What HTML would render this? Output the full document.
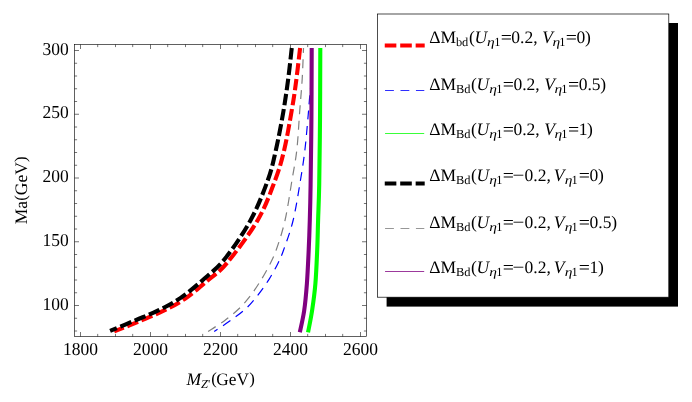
<!DOCTYPE html>
<html><head><meta charset="utf-8"><style>
html,body{margin:0;padding:0;background:#fff;}
svg{display:block;font-family:"Liberation Serif",serif;will-change:transform;text-rendering:geometricPrecision;}
text{fill:#000;}
</style></head><body>
<svg width="692" height="402" viewBox="0 0 692 402">
<rect width="692" height="402" fill="#fff"/>
<path d="M300.10,48.05 C299.40,53.88 297.28,72.67 295.90,83.00 C294.52,93.33 293.75,98.83 291.80,110.00 C289.85,121.17 286.97,138.33 284.20,150.00 C281.43,161.67 279.60,168.33 275.20,180.00 C270.80,191.67 265.82,206.20 257.80,220.00 C249.78,233.80 235.54,252.66 227.10,262.80 C218.66,272.94 214.23,274.82 207.15,280.85 C200.07,286.88 192.11,293.91 184.60,299.00 C177.09,304.09 169.97,307.55 162.10,311.40 C154.23,315.25 145.38,318.77 137.40,322.10 C129.42,325.43 118.07,329.85 114.20,331.40" fill="none" stroke="#ff0000" stroke-width="4.1" stroke-dasharray="11.70 3.70" stroke-dashoffset="0.00"/>
<path d="M311.60,48.05 C311.47,54.04 311.17,75.34 310.80,84.00 C310.43,92.66 309.83,94.83 309.40,100.00 C308.97,105.17 308.95,106.67 308.20,115.00 C307.45,123.33 306.18,139.17 304.90,150.00 C303.62,160.83 302.45,168.33 300.50,180.00 C298.55,191.67 296.02,208.33 293.20,220.00 C290.38,231.67 286.15,242.77 283.60,250.00 C281.05,257.23 280.30,258.55 277.90,263.40 C275.50,268.25 272.50,273.87 269.20,279.10 C265.90,284.33 262.03,289.83 258.10,294.80 C254.17,299.77 250.33,304.52 245.60,308.90 C240.87,313.28 234.93,317.35 229.70,321.10 C224.47,324.85 216.78,329.68 214.20,331.40" fill="none" stroke="#0000ff" stroke-width="1.2" stroke-dasharray="9.00 6.45" stroke-dashoffset="14.50"/>
<path d="M320.30,48.05 C320.25,60.04 320.18,97.17 320.00,120.00 C319.82,142.82 319.52,168.33 319.20,185.00 C318.88,201.67 318.43,209.17 318.10,220.00 C317.77,230.83 317.65,239.40 317.20,250.00 C316.75,260.60 316.25,273.52 315.40,283.60 C314.55,293.68 313.33,302.37 312.10,310.50 C310.87,318.63 308.72,328.75 308.04,332.40" fill="none" stroke="#00ff00" stroke-width="4.1"/>
<path d="M291.75,48.05 C291.16,53.19 289.61,68.24 288.20,78.90 C286.79,89.56 285.35,100.15 283.30,112.00 C281.25,123.85 278.47,138.67 275.90,150.00 C273.33,161.33 272.10,168.33 267.90,180.00 C263.70,191.67 257.83,206.92 250.70,220.00 C243.57,233.08 233.07,248.51 225.10,258.50 C217.12,268.49 210.32,273.35 202.85,279.95 C195.38,286.55 187.82,292.98 180.30,298.10 C172.78,303.23 165.25,307.00 157.75,310.70 C150.25,314.40 143.24,316.93 135.30,320.30 C127.36,323.67 114.30,329.13 110.10,330.90" fill="none" stroke="#000000" stroke-width="4.1" stroke-dasharray="11.70 3.70" stroke-dashoffset="0.00"/>
<path d="M303.50,48.05 C303.28,53.19 302.82,68.58 302.20,78.90 C301.58,89.23 300.70,98.15 299.80,110.00 C298.90,121.85 298.10,138.33 296.80,150.00 C295.50,161.67 293.95,168.33 292.00,180.00 C290.05,191.67 287.73,208.33 285.10,220.00 C282.47,231.67 278.87,242.38 276.20,250.00 C273.53,257.62 271.77,260.47 269.10,265.70 C266.43,270.93 263.33,276.37 260.20,281.40 C257.07,286.43 253.85,291.33 250.30,295.90 C246.75,300.47 243.25,304.63 238.90,308.80 C234.55,312.97 229.33,317.13 224.20,320.90 C219.07,324.67 210.78,329.65 208.10,331.40" fill="none" stroke="#808080" stroke-width="1.2" stroke-dasharray="9.00 6.40" stroke-dashoffset="4.13"/>
<path d="M311.70,48.05 C311.65,60.04 311.58,97.17 311.40,120.00 C311.22,142.82 310.87,168.33 310.60,185.00 C310.33,201.67 310.12,209.17 309.80,220.00 C309.48,230.83 309.18,239.40 308.70,250.00 C308.22,260.60 307.65,273.52 306.90,283.60 C306.15,293.68 305.38,302.39 304.20,310.50 C303.02,318.61 300.57,328.62 299.84,332.24" fill="none" stroke="#800080" stroke-width="4.1"/>
<rect x="74.5" y="44.5" width="292.0" height="292.0" fill="none" stroke="#000" stroke-width="0.62"/>
<path d="M80.50,336.50 v-4.50 M80.50,44.50 v4.50 M97.70,336.50 v-2.60 M97.70,44.50 v2.60 M115.50,336.50 v-2.60 M115.50,44.50 v2.60 M132.70,336.50 v-2.60 M132.70,44.50 v2.60 M150.50,336.50 v-4.50 M150.50,44.50 v4.50 M167.70,336.50 v-2.60 M167.70,44.50 v2.60 M185.50,336.50 v-2.60 M185.50,44.50 v2.60 M202.70,336.50 v-2.60 M202.70,44.50 v2.60 M220.50,336.50 v-4.50 M220.50,44.50 v4.50 M237.70,336.50 v-2.60 M237.70,44.50 v2.60 M255.50,336.50 v-2.60 M255.50,44.50 v2.60 M272.70,336.50 v-2.60 M272.70,44.50 v2.60 M290.50,336.50 v-4.50 M290.50,44.50 v4.50 M307.70,336.50 v-2.60 M307.70,44.50 v2.60 M325.50,336.50 v-2.60 M325.50,44.50 v2.60 M342.70,336.50 v-2.60 M342.70,44.50 v2.60 M360.50,336.50 v-4.50 M360.50,44.50 v4.50 M74.50,331.00 h2.60 M366.50,331.00 h-2.60 M74.50,318.25 h2.60 M366.50,318.25 h-2.60 M74.50,305.50 h4.50 M366.50,305.50 h-4.50 M74.50,292.75 h2.60 M366.50,292.75 h-2.60 M74.50,280.00 h2.60 M366.50,280.00 h-2.60 M74.50,267.25 h2.60 M366.50,267.25 h-2.60 M74.50,254.50 h2.60 M366.50,254.50 h-2.60 M74.50,241.75 h4.50 M366.50,241.75 h-4.50 M74.50,229.00 h2.60 M366.50,229.00 h-2.60 M74.50,216.25 h2.60 M366.50,216.25 h-2.60 M74.50,203.50 h2.60 M366.50,203.50 h-2.60 M74.50,190.75 h2.60 M366.50,190.75 h-2.60 M74.50,178.00 h4.50 M366.50,178.00 h-4.50 M74.50,165.25 h2.60 M366.50,165.25 h-2.60 M74.50,152.50 h2.60 M366.50,152.50 h-2.60 M74.50,139.75 h2.60 M366.50,139.75 h-2.60 M74.50,127.00 h2.60 M366.50,127.00 h-2.60 M74.50,114.25 h4.50 M366.50,114.25 h-4.50 M74.50,101.50 h2.60 M366.50,101.50 h-2.60 M74.50,88.75 h2.60 M366.50,88.75 h-2.60 M74.50,76.00 h2.60 M366.50,76.00 h-2.60 M74.50,63.25 h2.60 M366.50,63.25 h-2.60 M74.50,50.50 h4.50 M366.50,50.50 h-4.50" stroke="#000" stroke-width="0.55" fill="none"/>
<text transform="translate(80.50,355.2) scale(1,1.04)" text-anchor="middle" font-size="17.5">1800</text>
<text transform="translate(150.50,355.2) scale(1,1.04)" text-anchor="middle" font-size="17.5">2000</text>
<text transform="translate(220.50,355.2) scale(1,1.04)" text-anchor="middle" font-size="17.5">2200</text>
<text transform="translate(290.50,355.2) scale(1,1.04)" text-anchor="middle" font-size="17.5">2400</text>
<text transform="translate(360.50,355.2) scale(1,1.04)" text-anchor="middle" font-size="17.5">2600</text>
<text transform="translate(68.8,309.50) scale(1,1.04)" text-anchor="end" font-size="17.5">100</text>
<text transform="translate(68.8,245.75) scale(1,1.04)" text-anchor="end" font-size="17.5">150</text>
<text transform="translate(68.8,182.00) scale(1,1.04)" text-anchor="end" font-size="17.5">200</text>
<text transform="translate(68.8,118.25) scale(1,1.04)" text-anchor="end" font-size="17.5">250</text>
<text transform="translate(68.8,54.50) scale(1,1.04)" text-anchor="end" font-size="17.5">300</text>
<g transform="translate(27,190.3) rotate(-90)" font-size="17.5"><text x="-34.0" y="0">Ma</text><text x="-10.5" y="-0.85" font-size="16.8">(</text><text x="-4.85" y="0">GeV</text><text x="28.35" y="-0.85" font-size="16.8">)</text></g>
<text x="186.5" y="384.6" font-size="17.5" font-style="italic">M</text><text x="201.0" y="388.0" font-size="12.4" font-style="italic">Z</text><text x="207.9" y="388.4" font-size="12.4">'</text><text x="211.15" y="383.75" font-size="16.8">(</text><text x="216.3" y="384.6" font-size="17.5" textLength="32.6" lengthAdjust="spacingAndGlyphs">GeV</text><text x="249.3" y="383.75" font-size="16.8">)</text>
<rect x="386.6" y="23" width="291.4" height="283.6" fill="#000"/>
<rect x="377.5" y="14" width="291.3" height="283.2" fill="#fff" stroke="#000" stroke-width="0.7"/>
<path d="M384.75,45.50 H424.7" fill="none" stroke="#ff0000" stroke-width="4.1" stroke-dasharray="11.6 3.85"/>
<text x="429.30" y="42.60" font-size="17.5">ΔM</text>
<text x="455.90" y="46.10" font-size="12.4">bd</text>
<text x="468.90" y="42.60" font-size="17.5">(</text>
<text x="474.40" y="42.60" font-size="17.5" font-style="italic">U</text>
<text transform="translate(487.10,46.10) scale(1.25,1)" font-size="12.4" font-style="italic">η</text>
<text x="494.15" y="46.10" font-size="12.4">1</text>
<text transform="translate(500.70,42.60) scale(1.13,1)" font-size="17.5">=</text>
<text x="511.30" y="42.60" font-size="17.5">0.2,</text>
<text x="542.25" y="42.60" font-size="17.5" font-style="italic">V</text>
<text transform="translate(552.40,46.10) scale(1.25,1)" font-size="12.4" font-style="italic">η</text>
<text x="559.25" y="46.10" font-size="12.4">1</text>
<text transform="translate(565.80,42.60) scale(1.13,1)" font-size="17.5">=</text>
<text x="576.60" y="42.60" font-size="17.5">0</text>
<text x="585.00" y="42.60" font-size="17.5">)</text>
<path d="M385.05,90.50 H424.3" fill="none" stroke="#0000ff" stroke-width="0.82" stroke-dasharray="8.85 6.6"/>
<text x="429.30" y="89.80" font-size="17.5">ΔM</text>
<text x="455.90" y="93.30" font-size="12.4">Bd</text>
<text x="471.00" y="89.80" font-size="17.5">(</text>
<text x="476.50" y="89.80" font-size="17.5" font-style="italic">U</text>
<text transform="translate(489.20,93.30) scale(1.25,1)" font-size="12.4" font-style="italic">η</text>
<text x="496.25" y="93.30" font-size="12.4">1</text>
<text transform="translate(502.80,89.80) scale(1.13,1)" font-size="17.5">=</text>
<text x="513.40" y="89.80" font-size="17.5">0.2,</text>
<text x="544.35" y="89.80" font-size="17.5" font-style="italic">V</text>
<text transform="translate(554.50,93.30) scale(1.25,1)" font-size="12.4" font-style="italic">η</text>
<text x="561.35" y="93.30" font-size="12.4">1</text>
<text transform="translate(567.90,89.80) scale(1.13,1)" font-size="17.5">=</text>
<text x="578.70" y="89.80" font-size="17.5">0.5</text>
<text x="600.23" y="89.80" font-size="17.5">)</text>
<path d="M385.05,133.50 H424.2" fill="none" stroke="#00ff00" stroke-width="0.78"/>
<text x="429.30" y="134.60" font-size="17.5">ΔM</text>
<text x="455.90" y="138.10" font-size="12.4">Bd</text>
<text x="471.00" y="134.60" font-size="17.5">(</text>
<text x="476.50" y="134.60" font-size="17.5" font-style="italic">U</text>
<text transform="translate(489.20,138.10) scale(1.25,1)" font-size="12.4" font-style="italic">η</text>
<text x="496.25" y="138.10" font-size="12.4">1</text>
<text transform="translate(502.80,134.60) scale(1.13,1)" font-size="17.5">=</text>
<text x="513.40" y="134.60" font-size="17.5">0.2,</text>
<text x="544.35" y="134.60" font-size="17.5" font-style="italic">V</text>
<text transform="translate(554.50,138.10) scale(1.25,1)" font-size="12.4" font-style="italic">η</text>
<text x="561.35" y="138.10" font-size="12.4">1</text>
<text transform="translate(567.90,134.60) scale(1.13,1)" font-size="17.5">=</text>
<text x="578.70" y="134.60" font-size="17.5">1</text>
<text x="587.10" y="134.60" font-size="17.5">)</text>
<path d="M384.75,183.45 H424.7" fill="none" stroke="#000000" stroke-width="4.1" stroke-dasharray="11.6 3.85"/>
<text x="429.30" y="180.60" font-size="17.5">ΔM</text>
<text x="455.90" y="184.10" font-size="12.4">Bd</text>
<text x="471.00" y="180.60" font-size="17.5">(</text>
<text x="476.50" y="180.60" font-size="17.5" font-style="italic">U</text>
<text transform="translate(489.20,184.10) scale(1.25,1)" font-size="12.4" font-style="italic">η</text>
<text x="496.25" y="184.10" font-size="12.4">1</text>
<text transform="translate(502.80,180.60) scale(1.13,1)" font-size="17.5">=</text>
<text transform="translate(512.40,180.60) scale(1.2,1)" font-size="17.5">−</text>
<text x="524.60" y="180.60" font-size="17.5">0.2,</text>
<text x="553.85" y="180.60" font-size="17.5" font-style="italic">V</text>
<text transform="translate(564.70,184.10) scale(1.25,1)" font-size="12.4" font-style="italic">η</text>
<text x="571.55" y="184.10" font-size="12.4">1</text>
<text transform="translate(578.80,180.60) scale(1.13,1)" font-size="17.5">=</text>
<text x="589.60" y="180.60" font-size="17.5">0</text>
<text x="598.00" y="180.60" font-size="17.5">)</text>
<path d="M385.05,228.50 H424.3" fill="none" stroke="#808080" stroke-width="0.82" stroke-dasharray="8.85 6.6"/>
<text x="429.30" y="227.60" font-size="17.5">ΔM</text>
<text x="455.90" y="231.10" font-size="12.4">Bd</text>
<text x="471.00" y="227.60" font-size="17.5">(</text>
<text x="476.50" y="227.60" font-size="17.5" font-style="italic">U</text>
<text transform="translate(489.20,231.10) scale(1.25,1)" font-size="12.4" font-style="italic">η</text>
<text x="496.25" y="231.10" font-size="12.4">1</text>
<text transform="translate(502.80,227.60) scale(1.13,1)" font-size="17.5">=</text>
<text transform="translate(512.40,227.60) scale(1.2,1)" font-size="17.5">−</text>
<text x="524.60" y="227.60" font-size="17.5">0.2,</text>
<text x="553.85" y="227.60" font-size="17.5" font-style="italic">V</text>
<text transform="translate(564.70,231.10) scale(1.25,1)" font-size="12.4" font-style="italic">η</text>
<text x="571.55" y="231.10" font-size="12.4">1</text>
<text transform="translate(578.80,227.60) scale(1.13,1)" font-size="17.5">=</text>
<text x="589.60" y="227.60" font-size="17.5">0.5</text>
<text x="611.13" y="227.60" font-size="17.5">)</text>
<path d="M385.05,271.50 H424.2" fill="none" stroke="#800080" stroke-width="0.78"/>
<text x="429.30" y="272.60" font-size="17.5">ΔM</text>
<text x="455.90" y="276.10" font-size="12.4">Bd</text>
<text x="471.00" y="272.60" font-size="17.5">(</text>
<text x="476.50" y="272.60" font-size="17.5" font-style="italic">U</text>
<text transform="translate(489.20,276.10) scale(1.25,1)" font-size="12.4" font-style="italic">η</text>
<text x="496.25" y="276.10" font-size="12.4">1</text>
<text transform="translate(502.80,272.60) scale(1.13,1)" font-size="17.5">=</text>
<text transform="translate(512.40,272.60) scale(1.2,1)" font-size="17.5">−</text>
<text x="524.60" y="272.60" font-size="17.5">0.2,</text>
<text x="553.85" y="272.60" font-size="17.5" font-style="italic">V</text>
<text transform="translate(564.70,276.10) scale(1.25,1)" font-size="12.4" font-style="italic">η</text>
<text x="571.55" y="276.10" font-size="12.4">1</text>
<text transform="translate(578.80,272.60) scale(1.13,1)" font-size="17.5">=</text>
<text x="589.60" y="272.60" font-size="17.5">1</text>
<text x="598.00" y="272.60" font-size="17.5">)</text>
</svg>
</body></html>
